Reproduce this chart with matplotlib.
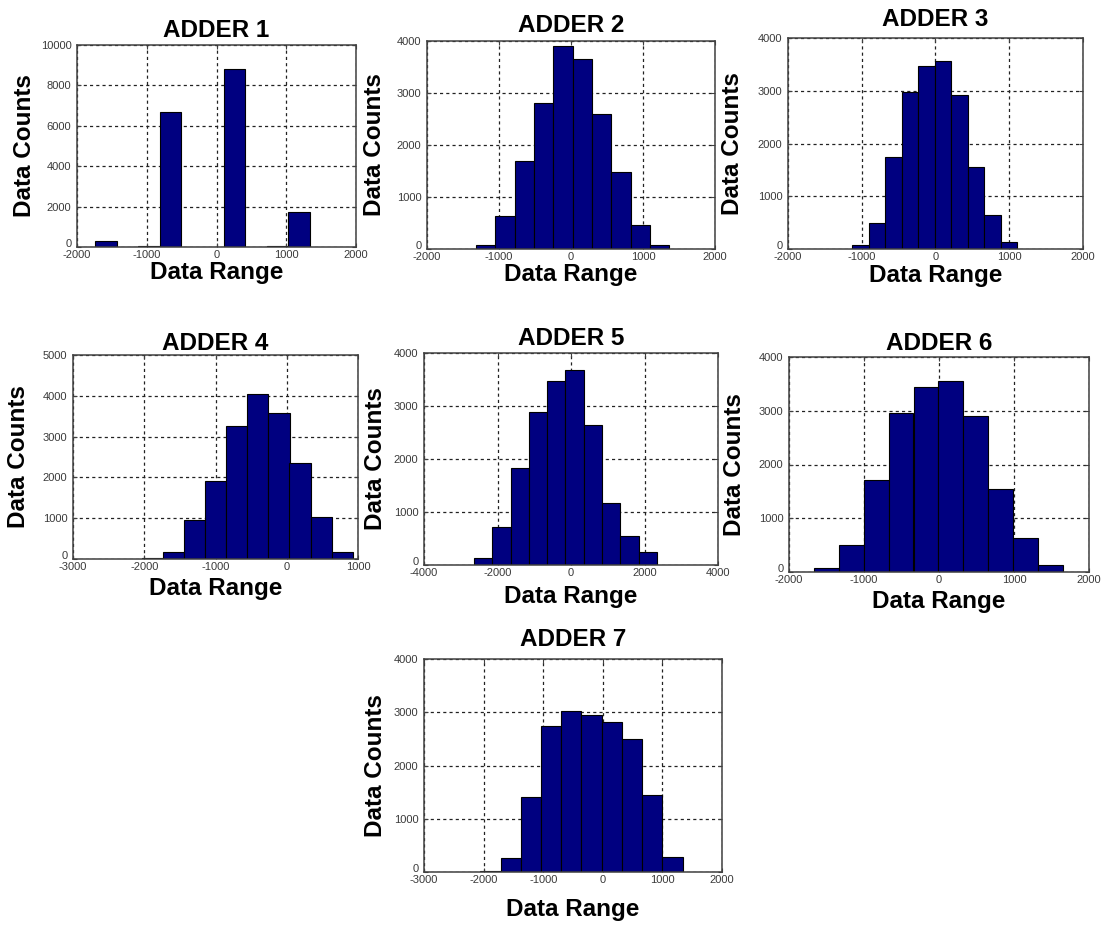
import matplotlib.pyplot as plt
from matplotlib.transforms import ScaledTranslation

plt.rcParams['font.family'] = ['Liberation Sans', 'DejaVu Sans']
plt.rcParams['axes.unicode_minus'] = False  # plain hyphen like the original

titles = ['ADDER 1', 'ADDER 2', 'ADDER 3', 'ADDER 4', 'ADDER 5', 'ADDER 6', 'ADDER 7']

# 10-bin histograms: bin centres, bin width, counts
centers_1 = [-1583, -1276, -969, -662, -355, -48, 259, 566, 873, 1180]
counts_1 = [300, 0, 50, 6700, 0, 0, 8800, 0, 50, 1750]
width_1 = 307

centers_2 = [-1186, -917, -648, -380, -111, 157, 426, 695, 963, 1232]
counts_2 = [80, 630, 1700, 2810, 3900, 3660, 2600, 1490, 460, 80]
width_2 = 269

centers_3 = [-1014, -791, -568, -344, -121, 102, 326, 549, 773, 996]
counts_3 = [80, 500, 1740, 2970, 3470, 3570, 2920, 1550, 650, 140]
width_3 = 223

centers_4 = [-1882, -1587, -1291, -996, -700, -405, -109, 186, 482, 777]
counts_4 = [20, 170, 950, 1900, 3260, 4050, 3570, 2360, 1030, 170]
width_4 = 296

centers_5 = [-2391, -1893, -1395, -897, -399, 99, 597, 1095, 1593, 2091]
counts_5 = [130, 720, 1830, 2880, 3480, 3670, 2640, 1170, 540, 250]
width_5 = 498

centers_6 = [-1504, -1172, -839, -507, -174, 158, 490, 823, 1155, 1487]
counts_6 = [80, 500, 1720, 2950, 3450, 3550, 2900, 1540, 640, 125]
width_6 = 332

centers_7 = [-1884, -1545, -1206, -866, -527, -188, 152, 491, 830, 1169]
counts_7 = [20, 270, 1400, 2740, 3020, 2950, 2810, 2500, 1450, 290]
width_7 = 339

x_limits = [(-2000, 2000), (-2000, 2000), (-2000, 2000), (-3000, 1000),
            (-4000, 4000), (-2000, 2000), (-3000, 2000)]
x_steps = [1000, 1000, 1000, 1000, 2000, 1000, 1000]
y_tops = [10000, 4000, 4000, 5000, 4000, 4000, 4000]
y_steps = [2000, 1000, 1000, 1000, 1000, 1000, 1000]

all_centers = [centers_1, centers_2, centers_3, centers_4, centers_5, centers_6, centers_7]
all_counts = [counts_1, counts_2, counts_3, counts_4, counts_5, counts_6, counts_7]
all_widths = [width_1, width_2, width_3, width_4, width_5, width_6, width_7]

W, H = 1107, 932
fig = plt.figure(figsize=(W / 100, H / 100), dpi=100)

# axes boxes in pixels: left, top, right, bottom
boxes = [(77, 45, 356, 247), (427, 41, 715, 249), (788, 38, 1083, 249),
         (73, 355, 358, 559), (424, 353, 718, 565), (789, 357, 1089, 572),
         (424, 659, 722, 872)]
xlab_gap = [14, 14, 15, 18, 20, 18, 26]    # px below axes
ylab_gap = [41, 41, 44, 43, 37, 43, 37]    # px left of axes
title_gap = [8, 9, 12, 5, 8, 7, 13]        # px above axes

for i in range(7):
    l, t, r, b = boxes[i]
    ax = fig.add_axes([l / W, 1 - b / H, (r - l) / W, (b - t) / H])
    ax.bar(all_centers[i], all_counts[i], width=all_widths[i],
           color='#000080', edgecolor='black', linewidth=0.8, zorder=2)

    x0, x1 = x_limits[i]
    ax.set_xlim(x0, x1)
    ax.set_ylim(0, y_tops[i])
    ax.set_xticks(range(x0, x1 + 1, x_steps[i]))
    ax.set_yticks(range(0, y_tops[i] + 1, y_steps[i]))

    ax.set_axisbelow(True)
    ax.grid(True, color='#222222', linestyle=(0, (2.5, 2.5)), linewidth=0.9)
    for sp in ax.spines.values():
        sp.set_color('#404040')
        sp.set_linewidth(1.1)
    ax.tick_params(direction='in', length=3, top=True, right=True,
                   labelsize=8, labelcolor='#3a3a3a', color='#404040')
    ax.tick_params(axis='x', pad=2)
    ax.tick_params(axis='y', pad=4)

    # lift the "0" count label a little so it sits above the x tick labels
    zero_lbl = ax.yaxis.get_major_ticks()[0].label1
    zero_lbl.set_transform(zero_lbl.get_transform()
                           + ScaledTranslation(0, 4 / 100, fig.dpi_scale_trans))

    ax.set_title(titles[i], fontsize=17.5, fontweight='bold', pad=title_gap[i] * 0.72)
    ax.set_xlabel('Data Range', fontsize=17.5, fontweight='bold')
    ax.set_ylabel('Data Counts', fontsize=17.5, fontweight='bold')
    ax.xaxis.set_label_coords(0.5, -xlab_gap[i] / (b - t))
    ax.yaxis.set_label_coords(-ylab_gap[i] / (r - l), 0.5)

plt.savefig('out.png', dpi=100)
